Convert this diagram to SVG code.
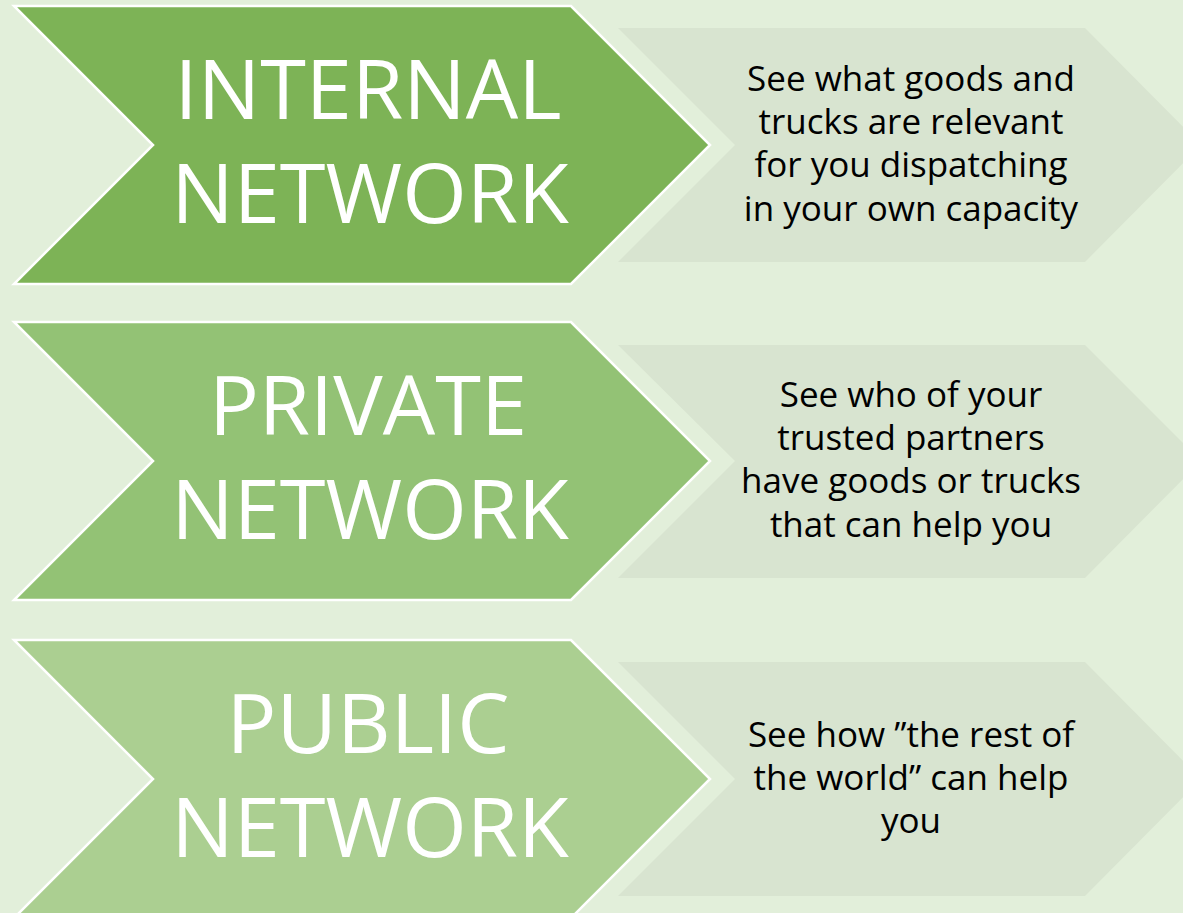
<svg xmlns="http://www.w3.org/2000/svg" width="1183" height="913" viewBox="0 0 1183 913">
<style>
.bg{fill:#e2efda}
.dark{stroke:#ffffff;stroke-width:2.5}
.c1{fill:#7db356}
.c2{fill:#93c275}
.c3{fill:#abcf91}
.light{fill:#d8e4d0}
.title{font-family:"Open Sans","Noto Sans",sans-serif;font-size:83px;fill:#ffffff;text-anchor:middle}
.desc{font-family:"Open Sans","Noto Sans",sans-serif;font-size:35px;fill:#000000;text-anchor:middle}
</style>
<rect class="bg" x="0" y="0" width="1183" height="913"/>
<g id="internal-desc">
<polygon class="light" points="618,28 1085,28 1201,145 1085,262 618,262 735,145"/>
<text class="desc" x="911" y="91">See what goods and</text>
<text class="desc" x="911" y="134">trucks are relevant</text>
<text class="desc" x="911" y="177">for you dispatching</text>
<text class="desc" x="911" y="221">in your own capacity</text>
</g>
<g id="internal">
<polygon class="dark c1" points="14,6 571,6 710,145 571,284 14,284 153,145"/>
<text class="title" x="368" y="119">INTERNAL</text>
<text class="title" x="370" y="223">NETWORK</text>
</g>
<g id="private-desc">
<polygon class="light" points="618,345 1085,345 1201,461 1085,578 618,578 735,461"/>
<text class="desc" x="911" y="407">See who of your</text>
<text class="desc" x="911" y="450">trusted partners</text>
<text class="desc" x="911" y="493">have goods or trucks</text>
<text class="desc" x="911" y="537">that can help you</text>
</g>
<g id="private">
<polygon class="dark c2" points="14,322 571,322 710,461 571,600 14,600 153,461"/>
<text class="title" x="368" y="435">PRIVATE</text>
<text class="title" x="370" y="539">NETWORK</text>
</g>
<g id="public-desc">
<polygon class="light" points="618,662 1085,662 1201,779 1085,896 618,896 735,779"/>
<text class="desc" x="911" y="747">See how ”the rest of</text>
<text class="desc" x="911" y="790">the world” can help</text>
<text class="desc" x="911" y="833">you</text>
</g>
<g id="public">
<polygon class="dark c3" points="14,640 571,640 710,779 571,918 14,918 153,779"/>
<text class="title" x="368" y="753">PUBLIC</text>
<text class="title" x="370" y="857">NETWORK</text>
</g>
<g id="connectors"></g>
</svg>
